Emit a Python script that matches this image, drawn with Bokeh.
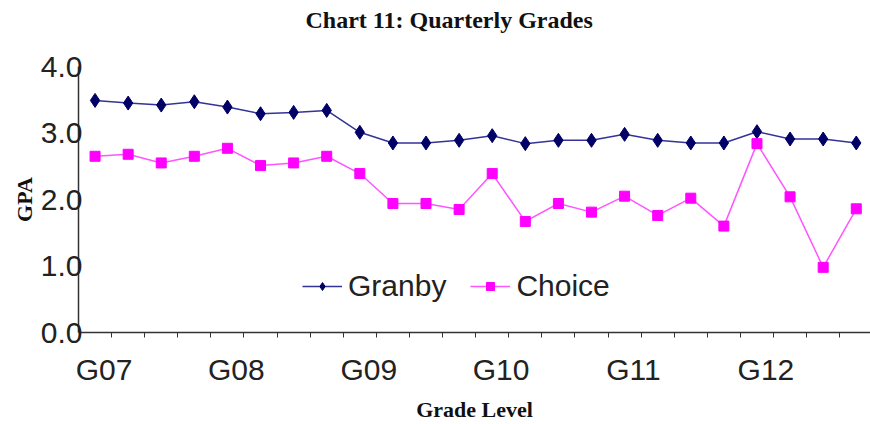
from bokeh.plotting import figure
from bokeh.models import FixedTicker, Legend, LegendItem, Range1d, PrintfTickFormatter, LinearAxis
from bokeh.embed import file_html
from bokeh.resources import INLINE

grades = ["G07", "G08", "G09", "G10", "G11", "G12"]
quarters_per_grade = 4
granby = [3.49, 3.45, 3.42, 3.47, 3.39, 3.29, 3.31, 3.34,
          3.01, 2.85, 2.85, 2.89, 2.96, 2.84, 2.89, 2.89,
          2.98, 2.89, 2.85, 2.85, 3.02, 2.91, 2.91, 2.85]
choice = [2.65, 2.68, 2.55, 2.65, 2.77, 2.51, 2.55, 2.65,
          2.39, 1.94, 1.94, 1.85, 2.39, 1.67, 1.94, 1.81,
          2.05, 1.76, 2.02, 1.60, 2.84, 2.04, 0.98, 1.86]
y_ticks = [0, 1, 2, 3, 4]

xs = list(range(len(granby)))

p = figure(width=870, height=424, output_backend="svg", toolbar_location=None,
           x_range=Range1d(-0.5, 23.43), y_range=Range1d(0, 4.0),
           min_border_left=78, min_border_right=0, min_border_top=66, min_border_bottom=89)
p.outline_line_color = None
p.grid.visible = False
p.background_fill_color = "white"

xax = p.below[0]
yax = p.left[0]

# invisible spacer axis between title and plot area
spacer = LinearAxis(ticker=FixedTicker(ticks=[0]), axis_line_color=None,
                    major_tick_line_color=None, minor_tick_line_color=None,
                    major_tick_out=34, major_tick_in=0, minor_tick_out=0, minor_tick_in=0,
                    major_label_standoff=0, major_label_overrides={0: ""},
                    major_label_text_font_size="1px")
p.add_layout(spacer, "above")

p.title.text = "Chart 11: Quarterly Grades"
p.title.align = "left"
p.title.offset = 227
p.title.text_font = "Liberation Serif"
p.title.text_font_size = "24px"
p.title.text_font_style = "bold"
p.title.text_color = "#111111"
p.title.standoff = 0

label_pos = [i * quarters_per_grade + 0.27 for i in range(len(grades))]
boundaries = [k + 0.5 for k in range(len(granby) - 1)]
xax.ticker = FixedTicker(ticks=label_pos, minor_ticks=boundaries)
xax.major_label_overrides = {pos: g for pos, g in zip(label_pos, grades)}
xax.major_tick_out = 0
xax.major_tick_in = 0
xax.minor_tick_out = 5
xax.minor_tick_in = 0
xax.minor_tick_line_color = "#333333"
xax.axis_line_color = "#333333"
xax.axis_line_width = 1.5
xax.major_label_text_font = "Liberation Sans"
xax.major_label_text_font_size = "30px"
xax.major_label_text_color = "#222222"
xax.major_label_standoff = 15
xax.axis_label = "Grade Level"
xax.axis_label_text_font = "Liberation Serif"
xax.axis_label_text_font_style = "bold"
xax.axis_label_text_font_size = "22px"
xax.axis_label_text_color = "#111111"
xax.axis_label_standoff = 8

yax.ticker = FixedTicker(ticks=y_ticks)
yax.formatter = PrintfTickFormatter(format="%.1f")
yax.major_tick_out = 0
yax.major_tick_in = 0
yax.minor_tick_out = 0
yax.minor_tick_in = 0
yax.axis_line_color = "#333333"
yax.axis_line_width = 1.5
yax.major_label_text_font = "Liberation Sans"
yax.major_label_text_font_size = "30px"
yax.major_label_text_color = "#222222"
yax.major_label_standoff = -4
yax.axis_label = "GPA"
yax.axis_label_text_font = "Liberation Serif"
yax.axis_label_text_font_style = "bold"
yax.axis_label_text_font_size = "22px"
yax.axis_label_text_color = "#111111"
yax.axis_label_standoff = 1

g_line = p.line(xs, granby, line_color="#333399", line_width=1.5)
g_pts = p.scatter(xs, granby, marker="diamond", size=14, fill_color="#000066", line_color="#000066")
c_line = p.line(xs, choice, line_color="#ff55ff", line_width=1.5)
c_pts = p.scatter(xs, choice, marker="square", size=10, fill_color="#ff00ff", line_color="#ff00ff")

legend = Legend(items=[LegendItem(label="Granby", renderers=[g_line, g_pts]),
                       LegendItem(label="Choice", renderers=[c_line, c_pts])],
                orientation="horizontal", location=(224, 29),
                glyph_width=40, glyph_height=20, label_standoff=6, spacing=24,
                padding=0, margin=0, border_line_alpha=0, background_fill_alpha=0,
                label_text_font="Liberation Sans", label_text_font_size="30px",
                label_text_color="#222222")
p.add_layout(legend)

open("out.html", "w").write(file_html(p, INLINE))
